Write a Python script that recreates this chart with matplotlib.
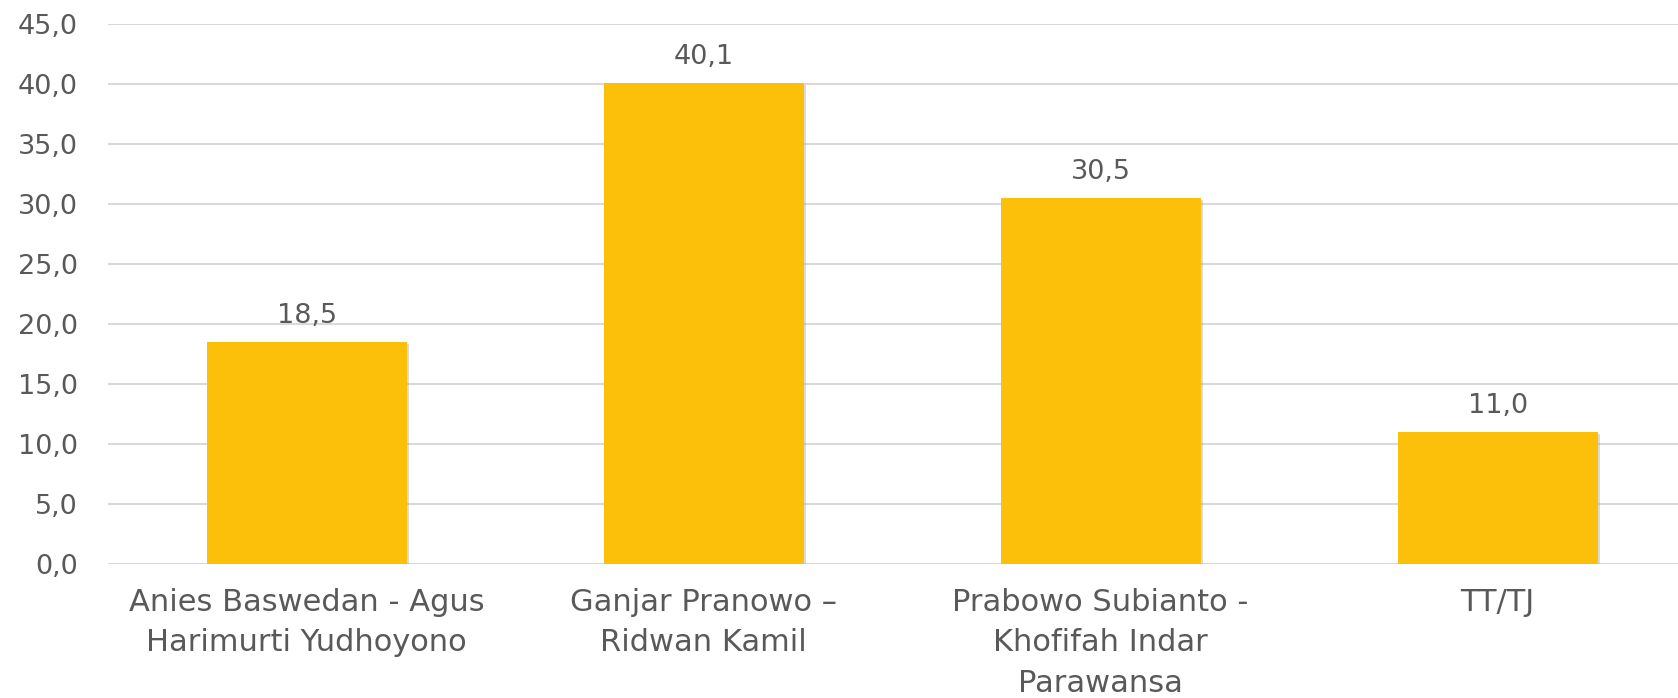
"""Bar chart of candidate pair electability."""

import matplotlib
matplotlib.use('Agg')
import matplotlib.pyplot as plt
import matplotlib.patheffects as pe

categories = ['Anies Baswedan - Agus\nHarimurti Yudhoyono',
              'Ganjar Pranowo –\nRidwan Kamil',
              'Prabowo Subianto -\nKhofifah Indar\nParawansa',
              'TT/TJ']
values = [18.5, 40.1, 30.5, 11.0]
yticks = [0, 5, 10, 15, 20, 25, 30, 35, 40, 45]

BAR = '#FDC00A'
TEXT = '#595959'
GRID = '#D9D9D9'

plt.rcParams['font.family'] = ['DejaVu Sans']

fig = plt.figure(figsize=(16.78, 6.98), dpi=100)
# plot area runs slightly past the right edge of the image, as in the original
ax = fig.add_axes([0.0644, 0.192, 0.9464, 0.7736])

x = range(len(categories))
bars = ax.bar(x, values, width=0.504, color=BAR, zorder=3)
for b in bars:
  b.set_path_effects([pe.SimplePatchShadow(offset=(1.5, -1.5), shadow_rgbFace='#999999', alpha=0.35),
                      pe.Normal()])

for xi, v in zip(x, values):
  ax.annotate('{:.1f}'.format(v).replace('.', ','), (xi, v), xytext=(0, 13.5),
              textcoords='offset points', ha='center', va='baseline',
              fontsize=19.5, color=TEXT)

ax.set_xlim(-0.5, len(categories) - 0.5)
ax.set_ylim(0, 45)
ax.set_yticks(yticks)
ax.set_yticklabels(['{:.1f}'.format(t).replace('.', ',') for t in yticks])
ax.set_xticks(list(x))
ax.set_xticklabels(categories, linespacing=1.5)

ax.tick_params(axis='y', length=0, pad=22, labelsize=19.5, labelcolor=TEXT)
ax.tick_params(axis='x', length=0, pad=17, labelsize=22, labelcolor=TEXT)
ax.grid(axis='y', color=GRID, linewidth=1.5, zorder=0)
for s in ax.spines.values():
  s.set_visible(False)

fig.savefig('out.png', dpi=100)
